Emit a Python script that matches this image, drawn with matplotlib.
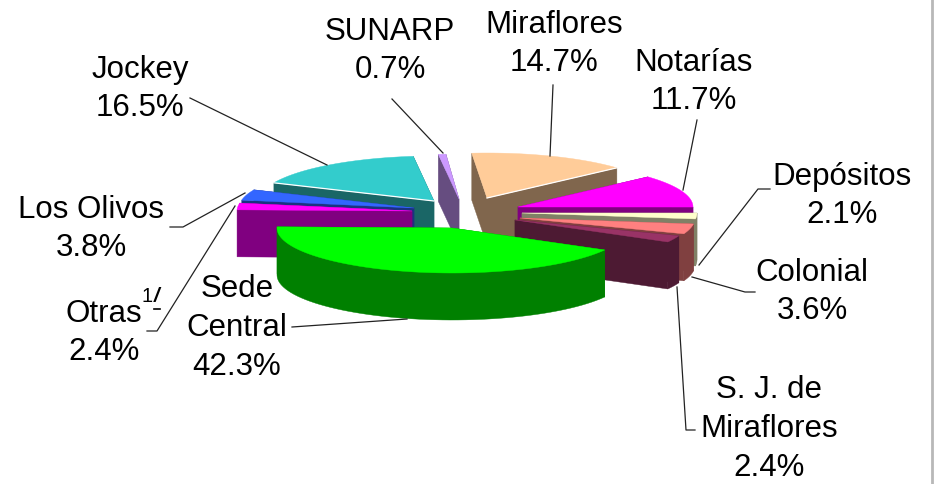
import numpy as np
import matplotlib
matplotlib.use('Agg')
import matplotlib.pyplot as plt
from matplotlib.patches import Polygon

# datos, en sentido horario desde Miraflores
categorias = ['Miraflores', 'Notarías', 'Depósitos', 'Colonial', 'S. J. de\nMiraflores',
              'Sede\nCentral', 'Otras', 'Los Olivos', 'Jockey', 'SUNARP']
valores = [14.7, 11.7, 2.1, 3.6, 2.4, 42.3, 2.4, 3.8, 16.5, 0.7]

colores = ['#FFCC99', '#FF00FF', '#FFFFCC', '#FF8080', '#993366',
           '#00FF00', '#FF00FF', '#3366FF', '#33CCCC', '#CC99FF']
lados = ['#80664D', '#800080', '#808066', '#804040', '#4D1A33',
         '#008000', '#800080', '#1A3380', '#1A6666', '#664D80']

# vertice de cada porcion (pie explotado), en pixeles
vertices = [(487, 198), (518, 207), (522, 213), (520, 218), (515, 220),
            (452, 228), (412, 211), (414, 208), (434, 201), (459, 199)]
orden = [9, 0, 8, 1, 2, 7, 6, 3, 4, 5]

inicio = -5
rx, ry, alto = 175, 45, 47

plt.rcParams['font.family'] = ['Liberation Sans', 'DejaVu Sans']
fig = plt.figure(figsize=(9.34, 4.84), dpi=100)
ax = fig.add_axes([0, 0, 1, 1])
ax.set_xlim(0, 934)
ax.set_ylim(484, 0)
ax.axis('off')


def borde(x0, y0, t):
    t = np.radians(t)
    return x0 + rx * np.sin(t), y0 - ry * np.cos(t)


def cara(pts, color, z):
    pts = list(pts)
    abajo = [(x, y + alto) for x, y in pts[::-1]]
    ax.add_patch(Polygon(pts + abajo, closed=True, fc=color, ec=color, lw=0.3, zorder=z))


acum = np.cumsum([0] + valores) / 100 * 360 + inicio

for z, i in enumerate(orden):
    x0, y0 = vertices[i]
    t1, t2 = acum[i], acum[i + 1]
    z = 2 + z
    caras = [[(x0, y0), borde(x0, y0, t1)], [(x0, y0), borde(x0, y0, t2)]]
    caras.sort(key=lambda c: c[1][1])
    for c in caras:
        cara(c, lados[i], z)
    # lado curvo, solo la parte de adelante
    a, b = max(t1, 90), min(t2, 270)
    if a < b:
        t = np.linspace(a, b, 60)
        cara(zip(*borde(x0, y0, t)), lados[i], z)
    t = np.linspace(t1, t2, 80)
    xs, ys = borde(x0, y0, t)
    ax.add_patch(Polygon([(x0, y0)] + list(zip(xs, ys)), closed=True, fc=colores[i],
                         ec=colores[i], lw=0.3, zorder=z))
    # filo blanco
    if i in (0, 8):
        e = t2 if i == 0 else t1
        ex, ey = borde(x0, y0, e)
        ax.plot([x0, ex], [y0, ey], color='white', lw=0.9, zorder=z)

# lineas guia
guias = [
    [(190, 98), (327, 165)],
    [(392, 99), (443, 153)],
    [(553, 85), (550, 156)],
    [(697, 120), (683, 190)],
    [(770, 189), (758, 189), (699, 265)],
    [(692, 277), (745, 292), (755, 292)],
    [(677, 287), (686, 430), (695, 430)],
    [(292, 327), (407, 319)],
    [(170, 227), (183, 227), (245, 193)],
    [(147, 331), (157, 331), (235, 206)],
]
for g in guias:
    gx, gy = zip(*g)
    ax.plot(gx, gy, color='#222222', lw=0.9, zorder=20)

etiquetas = [
    ('Miraflores\n14.7%', 554, 44),
    ('Notarías\n11.7%', 694, 82),
    ('Depósitos\n2.1%', 842, 196),
    ('Colonial\n3.6%', 812, 292),
    ('S. J. de\nMiraflores\n2.4%', 769, 429),
    ('Sede\nCentral\n42.3%', 237, 328),
    ('Los Olivos\n3.8%', 91, 229),
    ('Jockey\n16.5%', 140, 89),
    ('SUNARP\n0.7%', 390, 51),
]
for txt, x, y in etiquetas:
    ax.text(x, y, txt, ha='center', va='center', fontsize=22.5, linespacing=1.38,
            color='black', zorder=30)

ax.text(104, 333, 'Otras\n2.4%', ha='center', va='center', fontsize=22.5, linespacing=1.38, zorder=30)
ax.text(147, 297, '1', ha='center', va='center', fontsize=14.5, zorder=30)
ax.text(156.5, 297, '/', ha='center', va='center', fontsize=14.5, style='italic', weight='bold', zorder=30)
ax.plot([154, 160], [309, 309], color='black', lw=1.2, zorder=30)

# borde gris a la derecha
ax.plot([932, 932], [0, 484], color='#B8B8B8', lw=2, zorder=1)

fig.savefig('out.png', dpi=100)
